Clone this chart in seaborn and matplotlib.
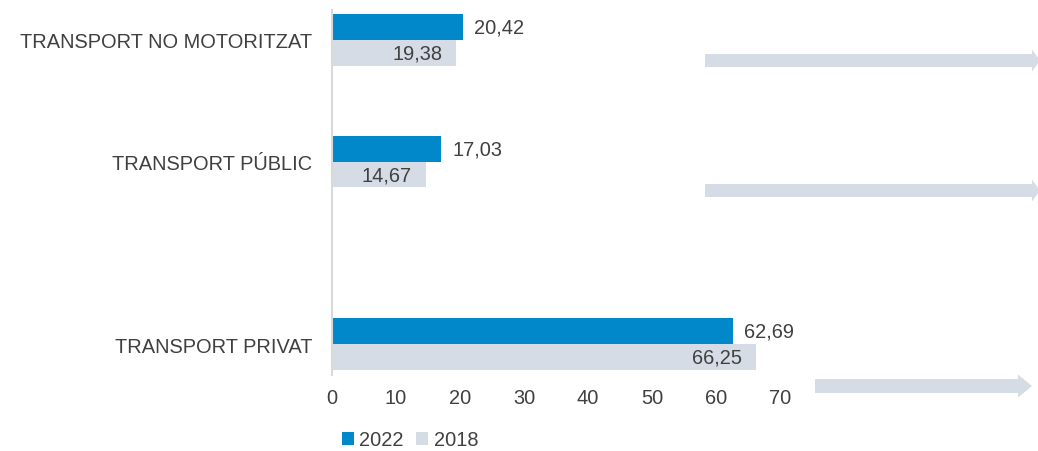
import matplotlib
matplotlib.use("Agg")
import matplotlib.pyplot as plt
import seaborn as sns
import pandas as pd
from matplotlib.patches import FancyArrow

categories = ["TRANSPORT NO MOTORITZAT", "TRANSPORT PÚBLIC", "TRANSPORT PRIVAT"]
years = ["2022", "2018"]
values_2022 = [20.42, 17.03, 62.69]
values_2018 = [19.38, 14.67, 66.25]
x_ticks = [0, 10, 20, 30, 40, 50, 60, 70]

# layout: empty slots create the uneven category spacing of the original
slot_order = [categories[0], " ", categories[1], "  ", "   ", categories[2]]

df = pd.DataFrame({
    "categoria": categories * 2,
    "any": [years[0]] * 3 + [years[1]] * 3,
    "valor": values_2022 + values_2018,
})

sns.set_theme(style="white")
plt.rcParams["font.family"] = ["Liberation Sans", "DejaVu Sans"]

TXT = "#404040"
BLUE = "#0088CA"
GREY = "#D6DCE5"

W, H = 1038, 452
fig = plt.figure(figsize=(W / 100, H / 100), dpi=100)
ax_left, ax_right, ax_top, ax_bottom = 332, 780, 10.5, 375.5
ax = fig.add_axes([ax_left / W, 1 - ax_bottom / H, (ax_right - ax_left) / W, (ax_bottom - ax_top) / H])

sns.barplot(data=df, y="categoria", x="valor", hue="any", order=slot_order,
            hue_order=years, palette=[BLUE, GREY], orient="h",
            width=0.85, gap=0, linewidth=0, saturation=1, ax=ax, legend=True)

ax.set_xlim(0, 70)
ax.set_ylim(5.5, -0.5)
ax.set_xticks(x_ticks)
ax.set_xticklabels([str(t) for t in x_ticks])
ax.set_xlabel("")
ax.set_ylabel("")
ax.tick_params(axis="x", length=0, pad=10, labelsize=14.4, colors=TXT)
ax.tick_params(axis="y", length=0, pad=14, labelsize=14.4, colors=TXT)

for s in ["top", "right", "bottom"]:
    ax.spines[s].set_visible(False)
ax.spines["left"].set_color("#D9D9D9")
ax.spines["left"].set_linewidth(1.5)

def fmt(v):
    return f"{v:.2f}".replace(".", ",")

cont_2022, cont_2018 = ax.containers[0], ax.containers[1]
ax.bar_label(cont_2022, labels=[fmt(v) for v in values_2022], padding=8,
             fontsize=14.4, color=TXT, clip_on=False)
for bar, v in zip(cont_2018, values_2018):
    ax.annotate(fmt(v), xy=(bar.get_x() + bar.get_width(), bar.get_y() + bar.get_height() / 2),
                xytext=(-10, 0), textcoords="offset points", ha="right", va="center",
                fontsize=14.4, color=TXT)

# legend
handles, labels = ax.get_legend_handles_labels()
ax.get_legend().remove()
fig.legend(handles, labels, loc="center", bbox_to_anchor=(410 / W, 1 - 441 / H),
           ncol=2, frameon=False, fontsize=14.4, labelcolor=TXT,
           handlelength=0.6, handleheight=0.6, handletextpad=0.3, columnspacing=0.6)

# decorative arrows (pixel coordinates)
def px_arrow(x0, x1, yc, shaft, head_w, head_l):
    arr = FancyArrow(x0 / W, 1 - yc / H, (x1 - x0) / W, 0,
                     width=shaft / H, head_width=head_w / H, head_length=head_l / W,
                     length_includes_head=True, transform=fig.transFigure,
                     color="#D6DCE5", linewidth=0)
    fig.patches.append(arr)

px_arrow(705, 1040, 61.5, 13, 22, 8)
px_arrow(705, 1040, 191.5, 13, 22, 8)
px_arrow(815, 1032, 387, 14, 23, 14)

fig.savefig("out.png", dpi=100)
